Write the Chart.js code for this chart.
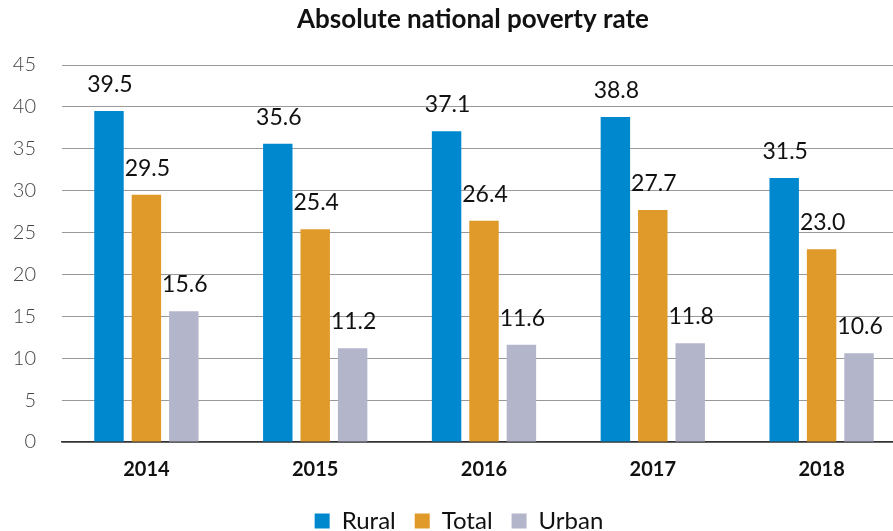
<!DOCTYPE html>
<html>
<head>
<meta charset="utf-8">
<script src="https://cdn.jsdelivr.net/npm/chart.js@4.4.1/dist/chart.umd.min.js"></script>
<style>
  html, body { margin: 0; padding: 0; background: #fff; overflow: hidden; }
  /* the plot runs past the right edge in the original, so the canvas is wider than its clipping box */
  #clip { width: 893px; height: 531px; overflow: hidden; position: relative; }
  #c { position: absolute; left: 0; top: 0; }
</style>
</head>
<body>
<div id="clip"><canvas id="c" width="927" height="531"></canvas></div>
<script>
var title = 'Absolute national poverty rate';
var years = ['2014', '2015', '2016', '2017', '2018'];
var rural = [39.5, 35.6, 37.1, 38.8, 31.5];
var total = [29.5, 25.4, 26.4, 27.7, 23.0];
var urban = [15.6, 11.2, 11.6, 11.8, 10.6];

// title drawn by hand so it can sit a bit right of the centre, like the original
var titlePlugin = {
    id: 'titlePlugin',
    afterDraw: function (chart) {
        var ctx = chart.ctx;
        ctx.save();
        ctx.font = 'bold 26px Lato, sans-serif';
        ctx.fillStyle = '#111';
        ctx.textAlign = 'center';
        ctx.textBaseline = 'alphabetic';
        ctx.fillText(title, 473, 28);
        ctx.restore();
    }
};

// value above each bar
var valueLabels = {
    id: 'valueLabels',
    afterDatasetsDraw: function (chart) {
        var ctx = chart.ctx;
        ctx.save();
        ctx.font = '23px Lato, sans-serif';
        ctx.fillStyle = '#111';
        ctx.textAlign = 'center';
        ctx.textBaseline = 'alphabetic';
        chart.data.datasets.forEach(function (ds, i) {
            chart.getDatasetMeta(i).data.forEach(function (bar, j) {
                ctx.fillText(ds.data[j].toFixed(1), bar.x + 1, bar.y - 19);
            });
        });
        ctx.restore();
    }
};

new Chart(document.getElementById('c'), {
    type: 'bar',
    data: {
        labels: years,
        datasets: [
            { label: 'Rural', data: rural, backgroundColor: '#0088CF' },
            { label: 'Total', data: total, backgroundColor: '#E09A2A' },
            { label: 'Urban', data: urban, backgroundColor: '#B3B5CB' },
        ]
    },
    options: {
        responsive: false,
        animation: false,
        layout: { padding: { left: 12, right: 21, top: 65, bottom: -12 } },
        datasets: {
            bar: { categoryPercentage: 0.665, barPercentage: 0.787 }
        },
        plugins: {
            title: { display: false },
            legend: {
                position: 'bottom',
                labels: {
                    color: '#111',
                    font: { family: 'Lato', size: 24 },
                    boxWidth: 15,
                    boxHeight: 15,
                    padding: 19
                }
            },
            tooltip: { enabled: false }
        },
        scales: {
            x: {
                grid: { display: false },
                border: { color: '#333', width: 1.5 },
                ticks: {
                    color: '#111',
                    font: { family: 'Lato', size: 20, weight: 'bold' },
                    padding: 8
                },
                afterFit: function (scale) {
                    scale.paddingLeft = 0;
                    scale.paddingRight = 0;
                }
            },
            y: {
                min: 0,
                max: 45,
                ticks: {
                    stepSize: 5,
                    color: '#444',
                    font: { family: 'Lato', size: 20, weight: 300 },
                    padding: 26
                },
                grid: { color: '#999', drawTicks: false },
                border: { display: false },
                afterFit: function (scale) {
                    scale.width = 50;
                }
            }
        }
    },
    plugins: [valueLabels, titlePlugin]
});
</script>
</body>
</html>
